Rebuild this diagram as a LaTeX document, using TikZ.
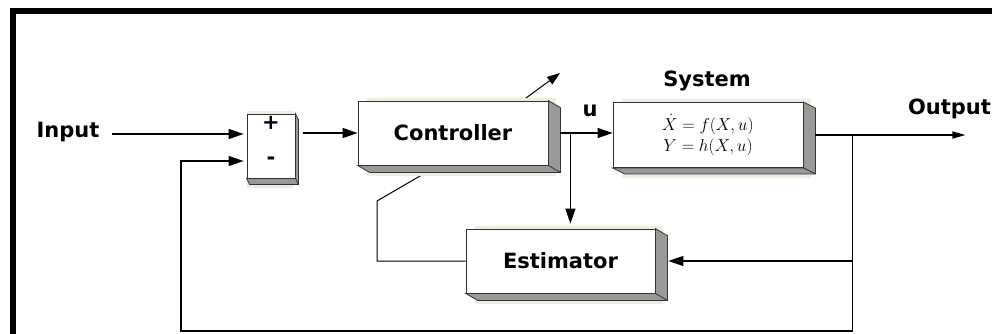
\documentclass[tikz,border=0pt]{standalone}
\usepackage{fontspec}
\usepackage{tikz}
\usetikzlibrary{arrows.meta}
\newfontfamily\blockfont{DejaVu Sans}
\definecolor{backing}{RGB}{236,238,222}
\definecolor{side}{RGB}{153,153,153}
\definecolor{edge}{RGB}{51,51,51}
\pgfdeclarelayer{bg}
\pgfsetlayers{bg,main}

\begin{document}
\begin{tikzpicture}[x=1pt,y=-1pt,
  block/.style={draw=edge,line width=0.8pt,fill=white,minimum width=190pt,minimum height=64pt,inner sep=0pt},
  lbl/.style={font=\blockfont\bfseries\fontsize{21}{25}\selectfont,inner sep=0pt},
  sig/.style={line width=1.4pt,-{Triangle[length=15pt,width=10pt]}},
  wire/.style={line width=1pt}]
  \useasboundingbox (0,0) rectangle (992,334);
  % frame, cut off at the right and bottom
  \draw[line width=6pt] (13,340) -- (13,11) -- (1000,11);

  % blocks (pixel coords, y down)
  \node[block,minimum width=48pt] (sum) at (271,146) {};
  \node[lbl] (plus) at ([yshift=23pt]sum.center) {+};
  \node[lbl] (minus) at ([yshift=-15pt]sum.center) {-};
  \node[block,lbl] (ctrl) at (453,133) {Controller};
  \node[block,minimum height=65pt,align=center,font=\fontsize{17}{21}\selectfont] (sys) at (708,135) {$\dot{X}=f(X,u)$\\$Y=h(X,u)$};
  \node[block,lbl,minimum width=189pt] (est) at (560.5,261) {Estimator};

  % labels
  \node[lbl] (input) at (68,132) {Input};
  \node[lbl] (output) at (949.5,109) {Output};
  \node[lbl] (syslbl) at (707,81) {System};
  \node[lbl] (u) at (590,111) {u};

  % signals
  \coordinate (pin) at ([yshift=12pt]sum.west);
  \coordinate (min) at ([yshift=-15pt]sum.west);
  \coordinate (ubr) at ([xshift=22pt]ctrl.east);
  \coordinate (ybr) at ([xshift=49pt]sys.east);
  \coordinate (yend) at ([xshift=162pt]sys.east);
  \coordinate (fb) at (181,331);
  \draw[sig,shorten <=12pt,shorten >=3pt] (input.east |- pin) -- (pin);
  \draw[sig,shorten <=8pt] (sum.east |- ctrl.west) -- (ctrl.west);
  \draw[sig,shorten <=12pt] (ctrl.east) -- (sys.west |- ctrl.east);
  \draw[sig,shorten >=5pt] (ubr) -- (ubr |- est.north);
  \draw[line width=1.4pt,-{Triangle[length=13pt,width=7pt]},shorten <=12pt] (sys.east) -- (yend);
  \draw[sig] (ybr) |- ([xshift=13pt]est.east);
  \draw[sig,shorten >=3pt] (ybr) |- (fb) |- (min);

  \begin{pgfonlayer}{bg}
    % adaptation path, runs behind the controller
    \coordinate (a1) at (377,201);
    \coordinate (a2) at (420,176);
    \coordinate (atip) at (560,73);
    \draw[wire,-{Triangle[length=13pt,width=9pt]}] (est.west) -| (a1) -- (a2) -- (atip);
    % shadows and 3d sides
    \foreach \b/\dx/\dy in {sum/3/6,ctrl/12/7,sys/12/6,est/12/7} {
      \fill[backing] ([shift={(\dx-3,-3)}]\b.north west) rectangle ([shift={(\dx-4,\dy+4)}]\b.south east);
      \filldraw[fill=side,draw=edge,line width=0.8pt] (\b.north east) -- ([shift={(\dx,\dy)}]\b.north east)
        -- ([shift={(\dx,\dy)}]\b.south east) -- ([shift={(\dx,\dy)}]\b.south west) -- (\b.south west)
        -- (\b.south east) -- cycle;
      \draw[edge,line width=0.8pt] (\b.south east) -- ([shift={(\dx,\dy)}]\b.south east);
    }
  \end{pgfonlayer}
\end{tikzpicture}
\end{document}
